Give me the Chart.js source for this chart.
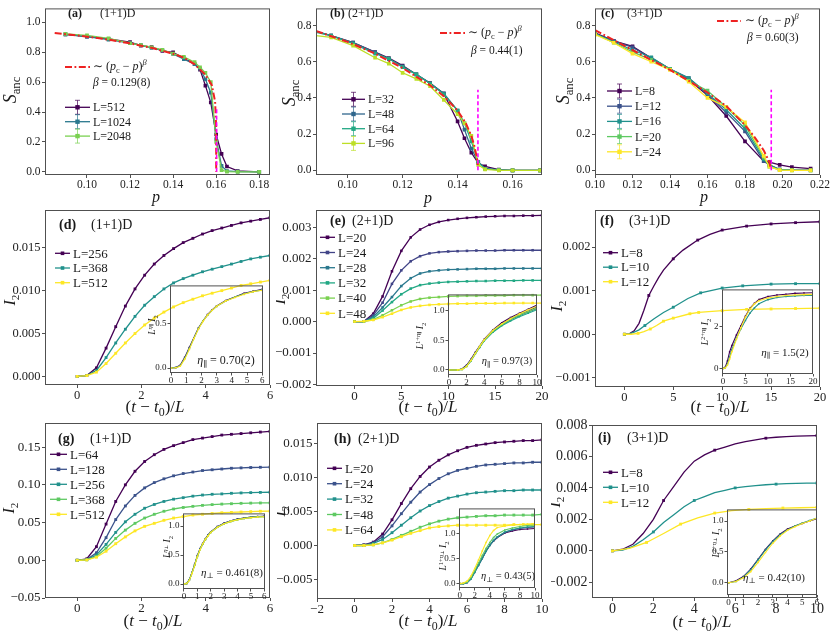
<!DOCTYPE html>
<html>
<head>
<meta charset="utf-8">
<script src="https://cdn.jsdelivr.net/npm/chart.js@4.4.0/dist/chart.umd.min.js"></script>
<style>
  body { margin: 0; background: #fff; width: 831px; height: 631px; position: relative; overflow: hidden; }
  canvas { position: absolute; }
</style>
</head>
<body>
<script>
// ---------- data ----------

// (a) (1+1)D  S_anc vs p
const pA = [0.09, 0.10, 0.11, 0.12, 0.125, 0.13, 0.135, 0.14, 0.145, 0.15, 0.1525, 0.155, 0.1575, 0.16, 0.1625, 0.165, 0.17, 0.18];
const sA512 = [0.92, 0.905, 0.89, 0.868, 0.845, 0.835, 0.81, 0.80, 0.76, 0.72, 0.684, 0.577, 0.464, 0.25, 0.12, 0.036, 0.006, 0.0];
const sA1024 = [0.92, 0.905, 0.885, 0.862, 0.848, 0.83, 0.815, 0.79, 0.755, 0.72, 0.69, 0.62, 0.53, 0.22, 0.04, 0.006, 0.001, 0.0];
const sA2048 = [0.923, 0.913, 0.893, 0.861, 0.848, 0.834, 0.816, 0.791, 0.77, 0.734, 0.70, 0.663, 0.60, 0.2, 0.012, 0.002, 0.0, 0.0];
const fitAp = [0.085, 0.10, 0.11, 0.12, 0.13, 0.14, 0.145, 0.15, 0.155, 0.158, 0.1595, 0.16, 0.16];
const fitAs = [0.93, 0.905, 0.885, 0.86, 0.83, 0.79, 0.765, 0.72, 0.65, 0.58, 0.47, 0.3, 0.0];
const pcA = 0.1602;

// (b) (2+1)D
const pB = [0.088, 0.094, 0.102, 0.11, 0.115, 0.12, 0.125, 0.13, 0.135, 0.14, 0.1425, 0.145, 0.1475, 0.15, 0.155, 0.16, 0.17];
const sB32 = [0.77, 0.745, 0.706, 0.653, 0.62, 0.579, 0.53, 0.482, 0.424, 0.27, 0.177, 0.097, 0.04, 0.022, 0.004, 0.0, 0.0];
const sB48 = [0.77, 0.745, 0.706, 0.652, 0.615, 0.575, 0.53, 0.48, 0.425, 0.33, 0.225, 0.12, 0.045, 0.01, 0.002, 0.0, 0.0];
const sB64 = [0.765, 0.745, 0.70, 0.645, 0.618, 0.57, 0.53, 0.48, 0.42, 0.33, 0.26, 0.16, 0.045, 0.008, 0.002, 0.0, 0.0];
const sB96 = [0.745, 0.735, 0.689, 0.622, 0.59, 0.539, 0.505, 0.465, 0.389, 0.31, 0.26, 0.19, 0.03, 0.005, 0.0, 0.0, 0.0];
const fitBp = [0.0885, 0.10, 0.11, 0.12, 0.13, 0.135, 0.14, 0.143, 0.145, 0.146, 0.147, 0.1474];
const fitBs = [0.77, 0.71, 0.645, 0.565, 0.47, 0.41, 0.33, 0.26, 0.19, 0.14, 0.07, 0.03];
const pcB = 0.1474;

// (c) (3+1)D
const pC = [0.10, 0.11, 0.12, 0.13, 0.14, 0.15, 0.16, 0.17, 0.18, 0.19, 0.193, 0.1985, 0.205, 0.215];
const sC8 = [0.76, 0.715, 0.685, 0.62, 0.56, 0.50, 0.415, 0.30, 0.16, 0.05, 0.045, 0.03, 0.018, 0.009];
const sC12 = [0.755, 0.715, 0.68, 0.62, 0.56, 0.51, 0.42, 0.32, 0.215, 0.05, 0.03, 0.005, 0.002, 0.001];
const sC16 = [0.755, 0.71, 0.665, 0.625, 0.56, 0.51, 0.425, 0.335, 0.23, 0.06, 0.03, 0.003, 0.001, 0.0];
const sC20 = [0.755, 0.705, 0.655, 0.61, 0.56, 0.495, 0.44, 0.35, 0.25, 0.07, 0.02, 0.002, 0.0, 0.0];
const sC24 = [0.75, 0.705, 0.645, 0.60, 0.555, 0.49, 0.40, 0.35, 0.265, 0.08, 0.02, 0.001, 0.0, 0.0];
const fitCp = [0.10, 0.12, 0.14, 0.15, 0.16, 0.17, 0.18, 0.185, 0.19, 0.193, 0.1938];
const fitCs = [0.775, 0.665, 0.555, 0.495, 0.43, 0.355, 0.25, 0.185, 0.11, 0.045, 0.01];
const pcC = 0.194;

// (d) (1+1)D  I2 vs (t-t0)/L, parallel
const tD = [0, 0.3, 0.6, 0.9, 1.2, 1.5, 1.8, 2.1, 2.4, 2.7, 3.0, 3.3, 3.6, 3.9, 4.2, 4.5, 4.8, 5.1, 5.4, 5.7, 6.0];
const iD256 = [0, 0.0001, 0.0010, 0.0033, 0.0058, 0.0082, 0.0102, 0.0118, 0.0131, 0.0141, 0.0149, 0.0156, 0.0161, 0.0166, 0.0170, 0.0173, 0.0176, 0.0179, 0.0181, 0.0183, 0.0185];
const iD368 = [0, 0.0001, 0.0007, 0.0022, 0.0039, 0.0055, 0.0070, 0.0083, 0.0093, 0.0102, 0.0109, 0.0114, 0.0118, 0.0122, 0.0125, 0.0128, 0.0131, 0.0134, 0.0137, 0.0139, 0.0141];
const iD512 = [0, 0.0001, 0.0005, 0.0015, 0.0027, 0.0039, 0.0050, 0.0060, 0.0068, 0.0075, 0.0081, 0.0086, 0.0090, 0.0094, 0.0097, 0.0100, 0.0103, 0.0106, 0.0108, 0.0110, 0.0112];
const tDin = [0, 0.3, 0.6, 0.9, 1.2, 1.5, 1.8, 2.1, 2.4, 2.7, 3.0, 3.6, 4.2, 4.8, 5.4, 6.0];
const sD256 = [0, 0.005, 0.03, 0.12, 0.23, 0.34, 0.45, 0.53, 0.60, 0.655, 0.70, 0.76, 0.80, 0.84, 0.865, 0.885];
const sD368 = [0, 0.004, 0.025, 0.11, 0.22, 0.335, 0.445, 0.53, 0.595, 0.65, 0.695, 0.755, 0.80, 0.835, 0.86, 0.88];
const sD512 = [0, 0.003, 0.02, 0.10, 0.21, 0.33, 0.44, 0.525, 0.595, 0.65, 0.695, 0.755, 0.795, 0.83, 0.86, 0.875];

// (e) (2+1)D parallel
const tE = [0, 1, 2, 3, 4, 5, 6, 7, 8, 9, 10, 11, 12, 13, 14, 15, 16, 17, 18, 19, 20];
const iE20 = [0, 0, 0.00025, 0.0008, 0.0016, 0.00225, 0.00268, 0.00293, 0.00308, 0.00317, 0.00323, 0.00327, 0.0033, 0.00332, 0.00334, 0.00335, 0.00336, 0.00336, 0.00337, 0.00337, 0.00338];
const iE24 = [0, 0, 0.0002, 0.0006, 0.0012, 0.00163, 0.00192, 0.00208, 0.00217, 0.00221, 0.00223, 0.00224, 0.00225, 0.00226, 0.00226, 0.00226, 0.00227, 0.00227, 0.00227, 0.00227, 0.00227];
const iE28 = [0, 0, 0.00015, 0.00045, 0.00078, 0.00113, 0.00138, 0.00153, 0.0016, 0.00163, 0.00165, 0.00166, 0.00167, 0.00168, 0.00168, 0.00168, 0.00169, 0.00169, 0.00169, 0.00169, 0.00169];
const iE32 = [0, 0, 0.0001, 0.00035, 0.00062, 0.00087, 0.00105, 0.00116, 0.00121, 0.00124, 0.00126, 0.00127, 0.00128, 0.00129, 0.00129, 0.0013, 0.0013, 0.0013, 0.00131, 0.00131, 0.00131];
const iE40 = [0, 0, 0.00006, 0.0002, 0.00036, 0.00052, 0.00064, 0.00072, 0.00076, 0.00078, 0.0008, 0.00081, 0.00082, 0.00082, 0.00083, 0.00083, 0.00083, 0.00084, 0.00084, 0.00084, 0.00084];
const iE48 = [0, 0.00001, 0.00005, 0.00014, 0.00025, 0.00037, 0.00045, 0.0005, 0.00053, 0.00055, 0.00056, 0.00057, 0.00057, 0.00058, 0.00058, 0.00058, 0.00059, 0.00059, 0.00059, 0.00059, 0.00059];
const tEin = [0, 1, 1.5, 2, 2.5, 3, 3.5, 4, 5, 6, 7, 8, 9, 10];
const sE20 = [0, 0, 0.02, 0.08, 0.18, 0.3, 0.41, 0.52, 0.68, 0.8, 0.89, 0.96, 1.03, 1.1];
const sE24 = [0, 0, 0.015, 0.07, 0.17, 0.29, 0.4, 0.51, 0.67, 0.78, 0.87, 0.94, 1.0, 1.07];
const sE28 = [0, 0, 0.015, 0.065, 0.16, 0.28, 0.39, 0.5, 0.65, 0.76, 0.85, 0.92, 0.98, 1.04];
const sE32 = [0, 0, 0.01, 0.06, 0.15, 0.27, 0.38, 0.49, 0.64, 0.75, 0.83, 0.9, 0.96, 1.02];
const sE40 = [0, 0, 0.01, 0.06, 0.16, 0.28, 0.4, 0.5, 0.66, 0.77, 0.86, 0.93, 0.99, 1.05];
const sE48 = [0, 0, 0.01, 0.06, 0.16, 0.28, 0.4, 0.51, 0.67, 0.78, 0.87, 0.95, 1.02, 1.08];

// (f) (3+1)D parallel (markers only on some samples)
const tF8 = [0, 0.5, 1, 1.5, 2, 2.5, 3, 3.5, 4, 5, 6, 7.5, 8.75, 10, 12.5, 15, 17.5, 20];
const iF8 = [0, 0.00001, 0.00008, 0.00025, 0.00055, 0.00089, 0.0011, 0.0013, 0.00147, 0.00173, 0.00193, 0.00216, 0.00229, 0.00239, 0.00248, 0.00253, 0.00256, 0.00258];
const mF8 = [0, 2.5, 5, 7.5, 10, 12.5, 15, 17.5, 20];
const tF10 = [0, 0.5, 1, 1.5, 2.1, 3, 4, 5, 6.5, 7.8, 10, 12.1, 15, 17.5, 20];
const iF10 = [0, 0.00001, 0.00005, 0.0001, 0.0002, 0.00035, 0.0005, 0.00062, 0.00082, 0.00095, 0.00106, 0.00111, 0.00115, 0.00116, 0.00116];
const mF10 = [0, 2.1, 5, 7.8, 10, 12.1, 15, 17.5, 20];
const tF12 = [0, 0.7, 1.4, 2, 2.65, 3.3, 4, 5, 6.7, 7.6, 10, 12.5, 15, 17.5, 20];
const iF12 = [0, 0, 0.00002, 0.00006, 0.00012, 0.0002, 0.0003, 0.00037, 0.00047, 0.0005, 0.00054, 0.00057, 0.00058, 0.00059, 0.0006];
const mF12 = [0, 1.4, 2.65, 4, 5, 6.7, 7.6, 10, 12.5, 15, 17.5, 20];
const tFin = [0, 0.5, 1, 1.5, 2, 3, 4, 5, 6, 7, 8, 10, 12, 14, 16, 18, 20];
const sF8 = [0, 0.05, 0.35, 0.8, 1.1, 1.6, 2.05, 2.5, 2.88, 3.12, 3.3, 3.45, 3.52, 3.56, 3.6, 3.62, 3.63];
const sF10 = [0, 0.02, 0.2, 0.55, 0.9, 1.45, 1.9, 2.3, 2.65, 2.9, 3.1, 3.3, 3.4, 3.45, 3.48, 3.5, 3.5];
const sF12 = [0, 0.02, 0.15, 0.45, 0.8, 1.4, 1.95, 2.45, 2.85, 3.1, 3.25, 3.38, 3.45, 3.5, 3.52, 3.54, 3.55];

// (g) (1+1)D perpendicular
const tG = [0, 0.3, 0.6, 0.9, 1.2, 1.5, 1.8, 2.1, 2.4, 2.7, 3.0, 3.3, 3.6, 3.9, 4.2, 4.5, 4.8, 5.1, 5.4, 5.7, 6.0];
const iG64 = [0, 0.002, 0.018, 0.048, 0.078, 0.1, 0.118, 0.131, 0.14, 0.147, 0.152, 0.156, 0.16, 0.162, 0.164, 0.166, 0.167, 0.168, 0.169, 0.17, 0.171];
const iG128 = [0, 0.001, 0.01, 0.03, 0.054, 0.072, 0.086, 0.096, 0.103, 0.108, 0.112, 0.115, 0.117, 0.119, 0.12, 0.121, 0.122, 0.1225, 0.123, 0.1233, 0.1235];
const iG256 = [0, 0.0008, 0.007, 0.021, 0.037, 0.051, 0.061, 0.069, 0.074, 0.078, 0.081, 0.083, 0.085, 0.0865, 0.0875, 0.088, 0.0888, 0.0893, 0.0897, 0.09, 0.0902];
const iG368 = [0, 0.0006, 0.005, 0.016, 0.029, 0.04, 0.049, 0.056, 0.061, 0.065, 0.068, 0.07, 0.0715, 0.0728, 0.0738, 0.0745, 0.075, 0.0755, 0.0758, 0.076, 0.0762];
const iG512 = [0, 0.0005, 0.004, 0.012, 0.022, 0.031, 0.039, 0.045, 0.049, 0.053, 0.056, 0.058, 0.06, 0.061, 0.062, 0.063, 0.0635, 0.064, 0.0645, 0.065, 0.0652];
const tGin = [0, 0.2, 0.4, 0.6, 0.8, 1, 1.2, 1.4, 1.6, 1.8, 2, 2.5, 3, 3.5, 4, 4.5, 5, 5.5, 6];
const sG64 = [0, 0.01, 0.07, 0.2, 0.34, 0.49, 0.61, 0.7, 0.78, 0.85, 0.9, 0.99, 1.05, 1.09, 1.12, 1.14, 1.155, 1.165, 1.17];
const sG128 = [0, 0.01, 0.07, 0.19, 0.33, 0.48, 0.6, 0.69, 0.77, 0.84, 0.9, 0.99, 1.05, 1.09, 1.12, 1.14, 1.155, 1.165, 1.17];
const sG256 = [0, 0.01, 0.065, 0.19, 0.33, 0.48, 0.6, 0.69, 0.77, 0.84, 0.89, 0.98, 1.04, 1.08, 1.11, 1.13, 1.15, 1.16, 1.165];
const sG368 = [0, 0.01, 0.065, 0.185, 0.325, 0.47, 0.59, 0.69, 0.77, 0.83, 0.89, 0.98, 1.04, 1.08, 1.11, 1.13, 1.145, 1.155, 1.16];
const sG512 = [0, 0.01, 0.06, 0.18, 0.32, 0.47, 0.59, 0.69, 0.77, 0.83, 0.89, 0.98, 1.04, 1.08, 1.11, 1.13, 1.145, 1.155, 1.16];

// (h) (2+1)D perpendicular
const tH = [0, 0.5, 1, 1.5, 2, 2.5, 3, 3.5, 4, 4.5, 5, 5.5, 6, 6.5, 7, 7.5, 8, 8.5, 9, 9.5, 10];
const iH20 = [0, 0.0001, 0.0005, 0.0017, 0.0038, 0.0062, 0.0084, 0.0102, 0.0116, 0.0126, 0.0134, 0.014, 0.0145, 0.0148, 0.015, 0.0152, 0.0153, 0.0154, 0.0155, 0.0155, 0.0156];
const iH24 = [0, 0.0001, 0.0004, 0.0013, 0.0029, 0.0047, 0.0064, 0.0079, 0.009, 0.0099, 0.0106, 0.0111, 0.0114, 0.0117, 0.0119, 0.012, 0.0121, 0.0122, 0.0122, 0.0123, 0.0123];
const iH32 = [0, 0, 0.0003, 0.0009, 0.0019, 0.003, 0.0041, 0.0051, 0.0059, 0.0065, 0.007, 0.0073, 0.0076, 0.0078, 0.0079, 0.008, 0.0081, 0.0081, 0.0082, 0.0082, 0.0082];
const iH48 = [0, 0, 0.0001, 0.0004, 0.0009, 0.0015, 0.0021, 0.0027, 0.0032, 0.0036, 0.0039, 0.0041, 0.0042, 0.0043, 0.0044, 0.0044, 0.0045, 0.0045, 0.0045, 0.0045, 0.0046];
const iH64 = [0, 0, 0.0001, 0.0004, 0.0008, 0.0013, 0.0018, 0.0022, 0.0026, 0.0028, 0.0029, 0.003, 0.003, 0.003, 0.003, 0.003, 0.003, 0.0031, 0.0031, 0.0031, 0.0031];
const tHin = [0, 0.5, 1, 1.5, 2, 2.5, 3, 3.5, 4, 4.5, 5, 6, 7, 8, 9, 10];
const sH20 = [0, 0, 0.02, 0.1, 0.24, 0.37, 0.5, 0.65, 0.76, 0.85, 0.92, 1.01, 1.05, 1.08, 1.09, 1.1];
const sH24 = [0, 0, 0.02, 0.1, 0.23, 0.37, 0.51, 0.65, 0.77, 0.86, 0.93, 1.02, 1.07, 1.1, 1.12, 1.13];
const sH32 = [0, 0, 0.02, 0.09, 0.22, 0.36, 0.5, 0.64, 0.76, 0.86, 0.93, 1.03, 1.08, 1.11, 1.13, 1.14];
const sH48 = [0, 0, 0.03, 0.12, 0.26, 0.41, 0.56, 0.7, 0.82, 0.92, 0.99, 1.07, 1.11, 1.14, 1.16, 1.17];
const sH64 = [0, 0.01, 0.05, 0.15, 0.3, 0.47, 0.65, 0.82, 0.96, 1.06, 1.12, 1.15, 1.17, 1.18, 1.19, 1.2];

// (i) (3+1)D perpendicular
const tI8 = [0, 0.5, 1, 1.5, 2, 2.5, 3, 3.5, 4, 4.5, 5, 5.5, 6, 6.5, 7, 7.5, 8, 8.5, 9, 9.5, 10];
const iI8 = [0, 0.0001, 0.00042, 0.0011, 0.002, 0.0032, 0.0041, 0.005, 0.0057, 0.0061, 0.0064, 0.0066, 0.0068, 0.00695, 0.00706, 0.00716, 0.00722, 0.00726, 0.00729, 0.00731, 0.00733];
const mI8 = [0, 2.5, 5, 7.5, 10];
const tI10 = [0, 0.5, 1, 1.5, 2, 2.5, 3, 3.5, 4, 4.5, 5, 5.5, 6, 6.5, 7, 7.5, 8, 8.5, 9, 9.5, 10];
const iI10 = [0, 0.00005, 0.00028, 0.0007, 0.0012, 0.0018, 0.0023, 0.0028, 0.0032, 0.00345, 0.0037, 0.00385, 0.004, 0.00408, 0.00415, 0.0042, 0.00424, 0.00427, 0.00429, 0.0043, 0.00431];
const mI10 = [0, 2, 4, 6, 8, 10];
const tI12 = [0, 0.833, 1.667, 2.5, 3.333, 4.167, 5, 5.833, 6.667, 7.5, 8.333, 9.167, 10];
const iI12 = [0, 0.00015, 0.00053, 0.0011, 0.0017, 0.0021, 0.0024, 0.00255, 0.00263, 0.00268, 0.00272, 0.00274, 0.00276];
const mI12 = [0, 1.667, 3.333, 5, 6.667, 8.333, 10];
const tIin = [0, 0.5, 1, 1.5, 2, 2.5, 3, 3.5, 4, 4.5, 5, 5.5, 6];
const sI8 = [0, 0.03, 0.1, 0.22, 0.38, 0.54, 0.68, 0.79, 0.87, 0.92, 0.96, 1.0, 1.04];
const sI10 = [0, 0.02, 0.09, 0.21, 0.37, 0.53, 0.67, 0.78, 0.86, 0.92, 0.97, 1.01, 1.05];
const sI12 = [0, 0.02, 0.08, 0.18, 0.33, 0.49, 0.64, 0.76, 0.85, 0.91, 0.96, 1.0, 1.05];

// tick values
const xtA = [0.10, 0.12, 0.14, 0.16, 0.18], ytA = [0, 0.2, 0.4, 0.6, 0.8, 1.0];
const xtB = [0.10, 0.12, 0.14, 0.16], ytB = [0, 0.2, 0.4, 0.6, 0.8];
const xtC = [0.10, 0.12, 0.14, 0.16, 0.18, 0.20, 0.22], ytC = [0, 0.2, 0.4, 0.6, 0.8];
const xtD = [0, 2, 4, 6], ytD = [0, 0.005, 0.010, 0.015];
const xtE = [0, 5, 10, 15, 20], ytE = [-0.002, -0.001, 0, 0.001, 0.002, 0.003];
const xtF = [0, 5, 10, 15, 20], ytF = [-0.001, 0, 0.001, 0.002];
const xtG = [0, 2, 4, 6], ytG = [-0.05, 0, 0.05, 0.10, 0.15];
const xtH = [-2, 0, 2, 4, 6, 8, 10], ytH = [-0.005, 0, 0.005, 0.010, 0.015];
const xtI = [0, 2, 4, 6, 8, 10], ytI = [-0.002, 0, 0.002, 0.004, 0.006, 0.008];
const xtIn6 = [0, 1, 2, 3, 4, 5, 6], xtIn10 = [0, 2, 4, 6, 8, 10], xtIn20 = [0, 5, 10, 15, 20];
const ytIn1 = [0, 0.5, 1.0], ytDin = [0, 0.5], ytFin = [0, 2];

// ---------- styling ----------
const FONT = '"Liberation Serif", "DejaVu Serif", serif';
const FRAME = '#505050';
const INK = '#1a1a1a';
const RED = '#ee2222';
const MAGENTA = '#ff00ff';
const V3 = ['#440154', '#21918c', '#fde725'];
const V5 = ['#440154', '#3b528b', '#21918c', '#5ec962', '#fde725'];
const V6 = ['#440154', '#414487', '#2a788e', '#22a884', '#7ad151', '#fde725'];
const colA = ['#440154', '#2a788e', '#7ad151'];
const colB = ['#440154', '#30678d', '#22a884', '#bddf26'];

const it = t => ({ t, i: 1 });
const bf = t => ({ t, b: 1 });
const sb = t => ({ t, s: 0.7, dy: 0.25 });
const sp = (t, i) => ({ t, s: 0.7, dy: -0.38, i });
const ssb = t => ({ t, s: 0.5, dy: -0.2 });

function fmt(d) {
  return v => (v < -1e-12 ? '\u2212' : '') + Math.abs(v).toFixed(d);
}

// text with sub/superscripts drawn on the canvas
function rich(ctx, m) {
  const size = m.size || 12;
  const segs = m.parts.map(p => (typeof p === 'string' ? { t: p } : p));
  const font = p => (p.i ? 'italic ' : '') + (p.b ? 'bold ' : '') + (size * (p.s || 1)).toFixed(1) + 'px ' + FONT;
  let w = 0;
  segs.forEach(p => { ctx.font = font(p); p.w = ctx.measureText(p.t).width; w += p.w; });
  ctx.save();
  ctx.translate(m.x, m.y);
  if (m.rot) ctx.rotate(m.rot * Math.PI / 180);
  let x = m.align === 'c' ? -w / 2 : m.align === 'r' ? -w : 0;
  ctx.fillStyle = m.color || INK;
  ctx.textBaseline = 'alphabetic';
  ctx.textAlign = 'left';
  segs.forEach(p => {
    ctx.font = font(p);
    ctx.fillText(p.t, x, 0.33 * size + (p.dy || 0) * size);
    x += p.w;
  });
  ctx.restore();
}

function drawMark(ctx, m) {
  if (m.line) {
    ctx.save();
    ctx.strokeStyle = m.color; ctx.lineWidth = m.w || 1;
    ctx.setLineDash(m.dash || []);
    ctx.beginPath(); ctx.moveTo(m.line[0], m.line[1]); ctx.lineTo(m.line[2], m.line[3]); ctx.stroke();
    ctx.restore();
  } else {
    rich(ctx, m);
  }
}

function drawLegend(ctx, chart, g) {
  let y = g.y;
  chart.data.datasets.forEach(ds => {
    if (!ds.inLegend) return;
    const c = ds.borderColor, xm = g.x + g.len / 2;
    ctx.save();
    ctx.strokeStyle = c; ctx.lineWidth = 1.3; ctx.setLineDash([]);
    ctx.beginPath(); ctx.moveTo(g.x, y); ctx.lineTo(g.x + g.len, y); ctx.stroke();
    if (g.err) {
      ctx.globalAlpha = 0.7; ctx.lineWidth = 1;
      ctx.beginPath();
      ctx.moveTo(xm, y - 7); ctx.lineTo(xm, y + 7);
      ctx.moveTo(xm - 2.5, y - 7); ctx.lineTo(xm + 2.5, y - 7);
      ctx.moveTo(xm - 2.5, y + 7); ctx.lineTo(xm + 2.5, y + 7);
      ctx.stroke();
      ctx.globalAlpha = 1;
    }
    ctx.fillStyle = c;
    const r = g.err ? 2.2 : 1.8;
    ctx.fillRect(xm - r, y - r, 2 * r, 2 * r);
    ctx.restore();
    rich(ctx, { x: g.x + g.len + 3, y, size: g.size, parts: [ds.label] });
    y += g.dy;
  });
}

function decor(ox, oy, o) {
  return {
    id: 'decor',
    afterDraw(chart) {
      const ctx = chart.ctx, a = chart.chartArea;
      ctx.save();
      ctx.strokeStyle = FRAME; ctx.lineWidth = 1;
      ctx.strokeRect(a.left + 0.5, a.top + 0.5, a.right - a.left - 1, a.bottom - a.top - 1);
      ctx.translate(-ox, -oy);
      (o.marks || []).forEach(m => drawMark(ctx, m));
      if (o.legend) drawLegend(ctx, chart, o.legend);
      ctx.restore();
    }
  };
}

function axis(range, ticks, cb, size, tl, pad, afterFit) {
  return {
    type: 'linear', min: range[0], max: range[1],
    afterFit,
    afterBuildTicks: s => { s.ticks = ticks.map(v => ({ value: v })); },
    ticks: { callback: cb, font: { family: FONT, size }, color: '#222', padding: pad, autoSkip: false, maxRotation: 0, minRotation: 0 },
    grid: { drawOnChartArea: false, drawTicks: true, tickLength: tl, color: FRAME, tickColor: FRAME, lineWidth: 1 },
    border: { display: false }
  };
}

// one line per series; xs may be shared or one array per series
function curves(xs, ys, labels, colors, opt) {
  const n = ys.length;
  return ys.map((yk, k) => {
    const xk = Array.isArray(xs[0]) ? xs[k] : xs;
    const marks = opt.marks ? opt.marks[k] : null;
    const r = opt.pr;
    return {
      label: labels[k], inLegend: !!opt.legend,
      data: xk.map((x, i) => ({ x, y: yk[i] })),
      borderColor: colors[k], backgroundColor: colors[k], pointBackgroundColor: colors[k],
      borderWidth: opt.bw || 1.3, tension: 0,
      pointStyle: 'rect', pointBorderWidth: 0,
      pointRadius: marks ? (c => (marks.includes(xk[c.dataIndex]) ? r : 0)) : r,
      order: n - k + 1
    };
  });
}

function fitLine(xs, ys) {
  return { label: 'fit', data: xs.map((x, i) => ({ x, y: ys[i] })), borderColor: RED, borderWidth: 2,
    borderDash: [7, 2.5, 1.8, 2.5], pointRadius: 0, tension: 0, order: 0 };
}
function pcLine(x, top) {
  return { label: 'pc', data: [{ x, y: 0 }, { x, y: top }], borderColor: MAGENTA, borderWidth: 1.6,
    borderDash: [4, 2.5], pointRadius: 0, order: -1 };
}

function makeChart(o) {
  const [L, T, R, B] = o.box, [pl, pt, pr, pb] = o.pad;
  const cv = document.createElement('canvas');
  const w = pl + R - L + pr, h = pt + B - T + pb;
  cv.width = w; cv.height = h;
  cv.style.left = (L - pl) + 'px'; cv.style.top = (T - pt) + 'px';
  cv.style.width = w + 'px'; cv.style.height = h + 'px';
  document.body.appendChild(cv);
  const fs = o.fs || 12, tl = o.tl || 3;
  new Chart(cv, {
    type: 'line',
    data: { datasets: o.datasets },
    options: {
      responsive: false, animation: false, events: [],
      layout: { padding: { left: 0, top: pt, right: pr, bottom: 0 } },
      plugins: { legend: { display: false }, tooltip: { enabled: false } },
      scales: {
        x: axis(o.xr, o.xt, o.xf, fs, tl, 0, s => { s.height = pb; }),
        y: axis(o.yr, o.yt, o.yf, fs, tl, o.small ? 1 : 1.5, s => { s.width = pl; })
      }
    },
    plugins: [decor(L - pl, T - pt, o)]
  });
}

// ---------- text helpers ----------
const sanc = (x, y) => ({ x, y, rot: -90, align: 'c', size: 18, parts: [it('S'), sb('anc')] });
const pLab = (x, y) => ({ x, y, align: 'c', size: 16, parts: [it('p')] });
const i2Lab = (x, y) => ({ x, y, rot: -90, align: 'c', size: 16, parts: [it('I'), sb('2')] });
const tLab = (x, y) => ({ x, y, align: 'c', size: 17, parts: ['(', it('t'), ' \u2212 ', it('t'), sb('0'), ')/', it('L')] });
const fitTxt = (x, y) => ({ x, y, size: 12, parts: ['\u223C (', it('p'), sb('c'), ' \u2212 ', it('p'), ')', sp('\u03B2', 1)] });
const betaTxt = (x, y, v) => ({ x, y, size: 11.5, parts: [it('\u03B2'), ' = ' + v] });
const fitKey = (x1, x2, y) => ({ line: [x1, y, x2, y], color: RED, w: 2, dash: [7, 2.5, 1.8, 2.5] });
const head = (x1, x2, y, a, d, size) => [{ x: x1, y, size, parts: [bf(a)] }, { x: x2, y, size, parts: [d] }];
const etaTxt = (x, y, sym, v, size) => ({ x, y, align: 'c', size, parts: [it('\u03B7'), sb(sym), ' = ' + v] });
const inY = (x, y, pre, sym) => ({ x, y, rot: -90, align: 'c', size: 9.5,
  parts: [it('L'), sp(pre), sp('\u03B7', 1), ssb(sym), ' ', it('I'), sb('2')] });

const PAR = '\u2225', PERP = '\u22A5';

// ---------- row 1 ----------
makeChart({
  box: [45, 1, 270, 175], pad: [45, 1, 14, 32], fs: 11.5,
  xr: [0.0805, 0.185], yr: [-0.021, 1.094], xt: xtA, yt: ytA, xf: fmt(2), yf: fmt(1),
  datasets: [
    ...curves(pA, [sA512, sA1024, sA2048], ['L=512', 'L=1024', 'L=2048'], colA, { pr: 2.6, legend: true }),
    fitLine(fitAp, fitAs), pcLine(pcA, 0.43)
  ],
  legend: { x: 65, y: 107.3, dy: 14.4, len: 25, size: 12, err: true },
  marks: [...head(68, 100, 13, '(a)', '(1+1)D', 12), fitKey(65, 90, 67), fitTxt(93, 66), betaTxt(93, 82, '0.129(8)'),
    sanc(10, 90), pLab(156, 197)]
});
makeChart({
  box: [316, 1, 542, 175], pad: [40, 1, 14, 32], fs: 11.5,
  xr: [0.0885, 0.1707], yr: [-0.026, 0.895], xt: xtB, yt: ytB, xf: fmt(2), yf: fmt(1),
  datasets: [
    ...curves(pB, [sB32, sB48, sB64, sB96], ['L=32', 'L=48', 'L=64', 'L=96'], colB, { pr: 2.6, legend: true }),
    fitLine(fitBp, fitBs), pcLine(pcB, 0.445)
  ],
  legend: { x: 342, y: 99.3, dy: 14.7, len: 23, size: 12, err: true },
  marks: [...head(330, 348, 13, '(b)', '(2+1)D', 12), fitKey(440, 465, 33), fitTxt(468, 32), betaTxt(471, 50, '0.44(1)'),
    sanc(289, 93), pLab(428, 198)]
});
makeChart({
  box: [595, 1, 820, 175], pad: [44, 1, 11, 32], fs: 11.5,
  xr: [0.10, 0.22], yr: [-0.026, 0.895], xt: xtC, yt: ytC, xf: fmt(2), yf: fmt(1),
  datasets: [
    ...curves(pC, [sC8, sC12, sC16, sC20, sC24], ['L=8', 'L=12', 'L=16', 'L=20', 'L=24'], V5, { pr: 2.6, legend: true }),
    fitLine(fitCp, fitCs), pcLine(pcC, 0.445)
  ],
  legend: { x: 607, y: 91, dy: 15.2, len: 25, size: 12, err: true },
  marks: [...head(601, 627, 13, '(c)', '(3+1)D', 12), fitKey(717, 741, 21), fitTxt(745, 20), betaTxt(747, 37, '0.60(3)'),
    sanc(563, 91), pLab(704, 197)]
});

// ---------- row 2 ----------
makeChart({
  box: [45, 210, 270, 385], pad: [45, 10, 14, 31], fs: 12.5,
  xr: [-1, 6], yr: [-0.001, 0.0194], xt: xtD, yt: ytD, xf: fmt(0), yf: fmt(3),
  datasets: curves(tD, [iD256, iD368, iD512], ['L=256', 'L=368', 'L=512'], V3, { pr: 2, legend: true }),
  legend: { x: 55, y: 253.3, dy: 14.7, len: 15, size: 13 },
  marks: [...head(59, 91, 224, '(d)', '(1+1)D', 14), i2Lab(10, 300), tLab(155, 406.5)]
});
makeChart({
  box: [170, 285, 263, 373], pad: [36, 6, 8, 14], fs: 9, tl: 2.5, small: true,
  xr: [-0.07, 6.05], yr: [-0.056, 0.93], xt: xtIn6, yt: ytDin, xf: fmt(0), yf: fmt(1),
  datasets: curves(tDin, [sD256, sD368, sD512], ['L=256', 'L=368', 'L=512'], V3, { pr: 1.2, bw: 1.1 }),
  marks: [etaTxt(226, 360, PAR, '0.70(2)', 12), inY(152, 325, '', PAR)]
});

makeChart({
  box: [316, 210, 542, 386], pad: [40, 10, 14, 30], fs: 13,
  xr: [-4.1, 20], yr: [-0.00205, 0.00355], xt: xtE, yt: ytE, xf: fmt(0), yf: fmt(3),
  datasets: curves(tE, [iE20, iE24, iE28, iE32, iE40, iE48], ['L=20', 'L=24', 'L=28', 'L=32', 'L=40', 'L=48'], V6, { pr: 1.8, legend: true }),
  legend: { x: 320, y: 237.3, dy: 15.2, len: 15, size: 13 },
  marks: [...head(330, 352, 220, '(e)', '(2+1)D', 14), i2Lab(280, 299), tLab(428, 406.5)]
});
makeChart({
  box: [448, 294, 537, 375], pad: [36, 6, 8, 14], fs: 9, tl: 2.5, small: true,
  xr: [-0.1, 10], yr: [-0.085, 1.28], xt: xtIn10, yt: ytIn1, xf: fmt(0), yf: fmt(1),
  datasets: curves(tEin, [sE20, sE24, sE28, sE32, sE40, sE48], ['L=20', 'L=24', 'L=28', 'L=32', 'L=40', 'L=48'], V6, { pr: 1.1, bw: 1.1 }),
  marks: [etaTxt(507, 361, PAR, '0.97(3)', 10.5), inY(420, 336, '1+', PAR)]
});

makeChart({
  box: [595, 210, 820, 387], pad: [44, 10, 11, 30], fs: 12.5,
  xr: [-3, 20], yr: [-0.00121, 0.00285], xt: xtF, yt: ytF, xf: fmt(0), yf: fmt(3),
  datasets: curves([tF8, tF10, tF12], [iF8, iF10, iF12], ['L=8', 'L=10', 'L=12'], V3, { pr: 2, legend: true, marks: [mF8, mF10, mF12] }),
  legend: { x: 603, y: 252.7, dy: 14.5, len: 15, size: 13 },
  marks: [...head(600, 629, 220, '(f)', '(3+1)D', 14), i2Lab(557, 306), tLab(720, 406.5)]
});
makeChart({
  box: [722, 289, 813, 374], pad: [36, 6, 8, 14], fs: 9, tl: 2.5, small: true,
  xr: [-0.2, 20], yr: [-0.27, 3.79], xt: xtIn20, yt: ytFin, xf: fmt(0), yf: fmt(0),
  datasets: curves(tFin, [sF8, sF10, sF12], ['L=8', 'L=10', 'L=12'], V3, { pr: 1.1, bw: 1.1 }),
  marks: [etaTxt(785, 352, PAR, '1.5(2)', 11), inY(705, 332, '2+', PAR)]
});

// ---------- row 3 ----------
makeChart({
  box: [45, 423, 270, 598], pad: [45, 10, 14, 33], fs: 13,
  xr: [-1, 6], yr: [-0.05, 0.182], xt: xtG, yt: ytG, xf: fmt(0), yf: fmt(2),
  datasets: curves(tG, [iG64, iG128, iG256, iG368, iG512], ['L=64', 'L=128', 'L=256', 'L=368', 'L=512'], V5, { pr: 2, legend: true }),
  legend: { x: 50, y: 454.3, dy: 15, len: 17, size: 13 },
  marks: [...head(58, 90, 438, '(g)', '(1+1)D', 14), i2Lab(9, 508), tLab(153, 620.5)]
});
makeChart({
  box: [183, 513, 265, 589], pad: [36, 6, 8, 14], fs: 9, tl: 2.5, small: true,
  xr: [-0.07, 6.05], yr: [-0.086, 1.218], xt: xtIn6, yt: ytIn1, xf: fmt(0), yf: fmt(1),
  datasets: curves(tGin, [sG64, sG128, sG256, sG368, sG512], ['L=64', 'L=128', 'L=256', 'L=368', 'L=512'], V5, { pr: 1.1, bw: 1.1 }),
  marks: [etaTxt(232, 572, PERP, '0.461(8)', 11), inY(167, 547, '', PERP)]
});

makeChart({
  box: [317, 423, 542, 599], pad: [40, 10, 14, 32], fs: 13,
  xr: [-2, 10], yr: [-0.0079, 0.0181], xt: xtH, yt: ytH, xf: fmt(0), yf: fmt(3),
  datasets: curves(tH, [iH20, iH24, iH32, iH48, iH64], ['L=20', 'L=24', 'L=32', 'L=48', 'L=64'], V5, { pr: 2, legend: true }),
  legend: { x: 327, y: 468.3, dy: 15.4, len: 15, size: 13 },
  marks: [...head(334, 358, 438, '(h)', '(2+1)D', 14), i2Lab(280, 511), tLab(428, 620.5)]
});
makeChart({
  box: [459, 508, 535, 588], pad: [36, 6, 8, 14], fs: 9, tl: 2.5, small: true,
  xr: [-0.09, 10], yr: [-0.088, 1.5], xt: xtIn10, yt: ytIn1, xf: fmt(0), yf: fmt(1),
  datasets: curves(tHin, [sH20, sH24, sH32, sH48, sH64], ['L=20', 'L=24', 'L=32', 'L=48', 'L=64'], V5, { pr: 1.1, bw: 1.1 }),
  marks: [etaTxt(508, 576, PERP, '0.43(5)', 10.5), inY(443, 556, '1+', PERP)]
});

makeChart({
  box: [592, 425, 817, 598], pad: [41, 10, 14, 33], fs: 14,
  xr: [-1, 10], yr: [-0.003, 0.008], xt: xtI, yt: ytI, xf: fmt(0), yf: fmt(3),
  datasets: curves([tI8, tI10, tI12], [iI8, iI10, iI12], ['L=8', 'L=10', 'L=12'], V3, { pr: 2, legend: true, marks: [mI8, mI10, mI12] }),
  legend: { x: 603, y: 472.3, dy: 15, len: 15, size: 13 },
  marks: [...head(598, 627, 437, '(i)', '(3+1)D', 14), i2Lab(555, 502), tLab(702, 621)]
});
makeChart({
  box: [727, 509, 817, 595], pad: [36, 6, 8, 14], fs: 9, tl: 2.5, small: true,
  xr: [-0.11, 6], yr: [-0.2, 1.19], xt: xtIn6, yt: ytIn1, xf: fmt(0), yf: fmt(1),
  datasets: curves(tIin, [sI8, sI10, sI12], ['L=8', 'L=10', 'L=12'], V3, { pr: 1.1, bw: 1.1 }),
  marks: [etaTxt(774, 577, PERP, '0.42(10)', 11), inY(716, 543, '2+', PERP)]
});
</script>
</body>
</html>
